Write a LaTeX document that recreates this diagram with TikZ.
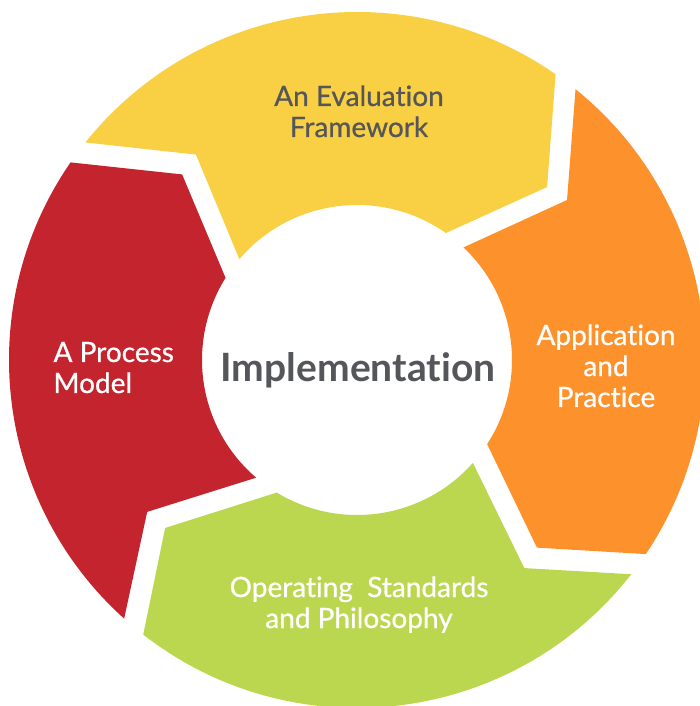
\documentclass[tikz,border=0pt]{standalone}
\usepackage{fontspec}
\setmainfont{Lato}[Ligatures=NoCommon]
\newfontfamily\segfont{Lato}[Ligatures=NoCommon, FakeBold=0.7]

\definecolor{evalyellow}{HTML}{F9CF43}
\definecolor{applorange}{HTML}{FD922D}
\definecolor{opergreen}{HTML}{BBD750}
\definecolor{procred}{HTML}{C3242E}
\definecolor{textgray}{HTML}{55565A}

\tikzset{
  segtext/.style={font=\segfont\fontsize{28}{31}\selectfont, align=center, anchor=base},
}

\begin{document}
\begin{tikzpicture}[x=1pt,y=1pt]
\clip (-357,-346) rectangle (343,360);

%Define Coordinates
\coordinate (Y1) at (141.3:348);
\coordinate (Y3) at (42.3:257);
\coordinate (Y4) at (55:155);
\coordinate (Y6) at (128.1:261);

\coordinate (O1) at (51.1:348);
\coordinate (O3) at (-46.2:260);
\coordinate (O4) at (-32.9:155);
\coordinate (O6) at (37.3:264);

\coordinate (G1) at (-38:348);
\coordinate (G3) at (-138.8:255);
\coordinate (G4) at (-121.2:155);
\coordinate (G6) at (-51.2:267);

\coordinate (R1) at (228:348);
\coordinate (R3) at (133.3:255);
\coordinate (R4) at (148:155);
\coordinate (R6) at (215.9:259);

%Segments
\fill[evalyellow] (Y1) arc[start angle=141.3, end angle=55.2, radius=348]
  -- (Y3) -- (Y4) arc[start angle=55, end angle=139.4, radius=155] -- (Y6) -- cycle;
\fill[applorange] (O1) arc[start angle=51.1, end angle=-33.9, radius=348]
  -- (O3) -- (O4) arc[start angle=-32.9, end angle=46.6, radius=155] -- (O6) -- cycle;
\fill[opergreen] (G1) arc[start angle=-38, end angle=-127.9, radius=348]
  -- (G3) -- (G4) arc[start angle=-121.2, end angle=-41.6, radius=155] -- (G6) -- cycle;
\fill[procred] (R1) arc[start angle=228, end angle=145.4, radius=348]
  -- (R3) -- (R4) arc[start angle=148, end angle=229.4, radius=155] -- (R6) -- cycle;

%Labels (base = last line)
\node[text=textgray, font=\fontsize{39}{46}\selectfont\bfseries, anchor=base] (impl) at (1,-22) {Implementation};
\node[segtext, text=textgray] (eval) at (2,223) {An Evaluation\\Framework};
\node[segtext, text=white] (appl) at (249,-47) {Application\\and\\Practice};
\node[segtext, text=white] (oper) at (2,-268) {Operating\ \ Standards\\and Philosophy};
\node[segtext, text=white, align=left, anchor=base west] (proc) at (-307,-33) {A Process\\Model};

\end{tikzpicture}
\end{document}
